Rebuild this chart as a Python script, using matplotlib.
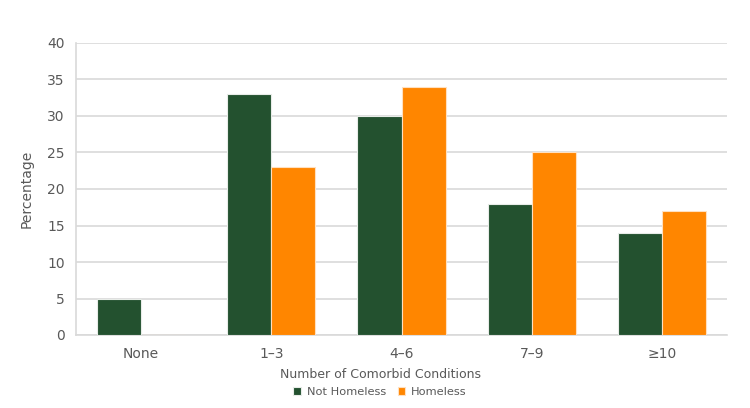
import matplotlib.pyplot as plt
import numpy as np

categories = ['None', '1\u20133', '4\u20136', '7\u20139', '\u226510']
not_homeless = [5, 33, 30, 18, 14]
homeless = [0, 23, 34, 25, 17]

green = '#23512F'
orange = '#FF8600'
text_gray = '#595959'
grid_gray = '#D9D9D9'

plt.rcParams['font.family'] = ['DejaVu Sans']

fig = plt.figure(figsize=(7.5, 4.08), dpi=100)
ax = fig.add_axes([76 / 750, 1 - 335 / 408, 651 / 750, 292 / 408])

x = np.arange(len(categories))
w = 0.338
ax.bar(x - w / 2, not_homeless, w, color=green, edgecolor='#E8ECE8', linewidth=0.8,
       label='Not Homeless', zorder=3)
ax.bar(x + w / 2, homeless, w, color=orange, edgecolor='#FFE0C0', linewidth=0.8,
       label='Homeless', zorder=3)

ax.set_xlim(-0.5, len(categories) - 0.5)
ax.set_ylim(0, 40)
ax.set_yticks(np.arange(0, 41, 5))
ax.set_xticks(x)
ax.set_xticklabels(categories)
ax.grid(axis='y', color=grid_gray, linewidth=1.2, zorder=0)
ax.tick_params(axis='both', length=0, colors=text_gray, labelsize=10, pad=8)
ax.tick_params(axis='x', pad=9)

for side in ['top', 'right']:
    ax.spines[side].set_visible(False)
for side in ['left', 'bottom']:
    ax.spines[side].set_color(grid_gray)
    ax.spines[side].set_linewidth(1.2)

# title-ish labels are centred on the figure, not the axes
cx = (380 - 76) / 651
ax.set_ylabel('Percentage', color=text_gray, fontsize=10, labelpad=10)
ax.set_xlabel('Number of Comorbid Conditions', color=text_gray, fontsize=9, labelpad=5)
ax.xaxis.label.set_x(cx)

leg = ax.legend(loc='center', bbox_to_anchor=(cx, -0.195), ncol=2, frameon=False,
                fontsize=8.2, handlelength=0.7, handleheight=0.7, handletextpad=0.5,
                columnspacing=1.0, borderpad=0)
for t in leg.get_texts():
    t.set_color(text_gray)

fig.savefig('out.png', dpi=100)
